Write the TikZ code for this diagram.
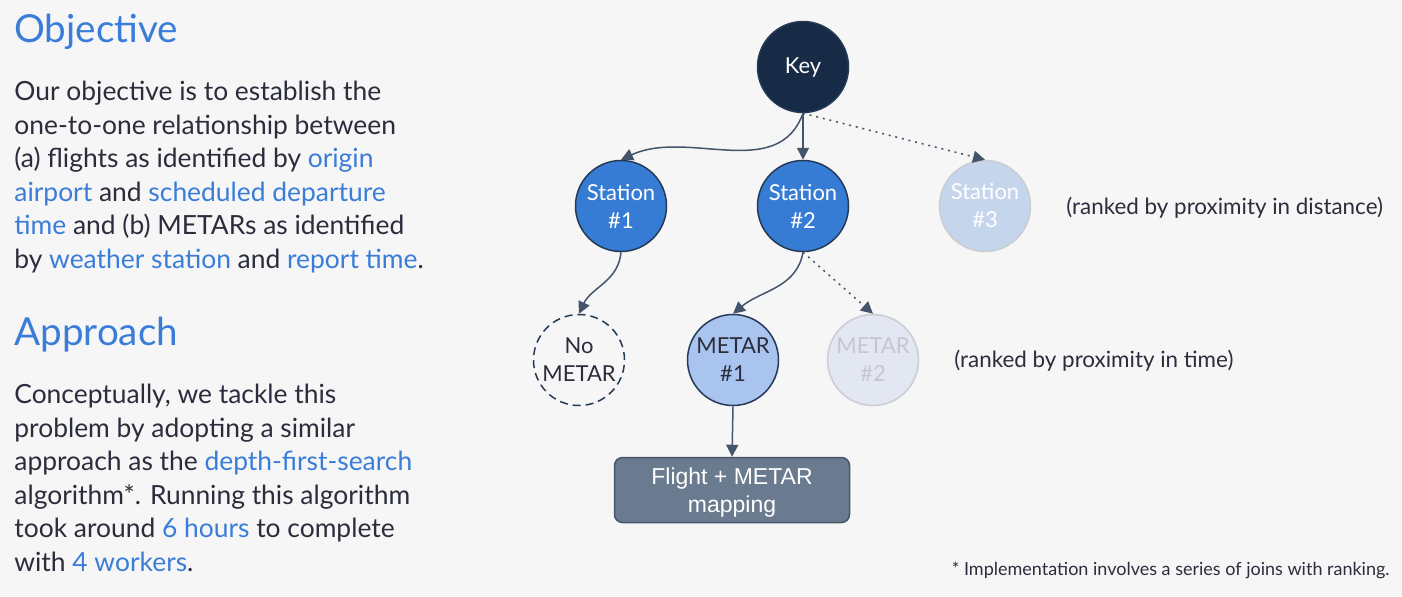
\documentclass[tikz,border=0pt]{standalone}
\usepackage{fontspec}
\setmainfont{Lato}
\newfontfamily\boxfont{Liberation Sans}
\usetikzlibrary{arrows.meta,positioning}
\definecolor{Canvas}{HTML}{F6F6F6}
\definecolor{Ink}{HTML}{2B2D3C}
\definecolor{Accent}{HTML}{3A7DD8}
\definecolor{KeyNavy}{HTML}{172A46}
\definecolor{StationBlue}{HTML}{377CD4}
\definecolor{Rim}{HTML}{253A57}
\definecolor{FadedFill}{HTML}{C5D6EC}
\definecolor{FadedRim}{HTML}{C9CDD2}
\definecolor{MetarFill}{HTML}{A9C4EF}
\definecolor{MetarFaded}{HTML}{E2E7F2}
\definecolor{MetarFadedText}{HTML}{C4C8CE}
\definecolor{BoxFill}{HTML}{6A7B8F}
\definecolor{BoxRim}{HTML}{46566B}
\definecolor{Edge}{HTML}{44546A}
\newcommand{\hl}[1]{\textcolor{Accent}{#1}}

\begin{document}
\begin{tikzpicture}[x=0.5pt,y=-0.5pt,text=Ink,heading/.style={anchor=base west,inner sep=0,text=Accent,font=\fontsize{19.3}{22}\selectfont},para/.style={anchor=north west,inner sep=0,align=left,font=\fontsize{13.2}{16.75}\selectfont},note/.style={anchor=west,inner sep=0,font=\fontsize{11.2}{13}\selectfont},bubble/.style={circle,draw=Rim,line width=0.75pt,minimum size=45.5pt,inner sep=0,align=center,font=\fontsize{11}{14}\selectfont},station/.style={bubble,fill=StationBlue,text=white},faded/.style={draw=FadedRim,fill=FadedFill,text=white},metar/.style={bubble,fill=MetarFill,text=Ink},metarfaded/.style={bubble,draw=FadedRim,fill=MetarFaded,text=MetarFadedText},arrow/.style={-{Triangle[length=6pt,width=6pt]},line width=0.75pt,draw=Edge},dotarrow/.style={arrow,dash pattern=on 1pt off 2.4pt}]
\fill[Canvas] (0,0) rectangle (1402,596);
\useasboundingbox (0,0) rectangle (1402,596);
% left column
\node[heading] (objhead) at (14,42){Objective};
\node[para] (objtext) at (14,81){Our objective is to establish the\\one-to-one relationship between\\(a) flights as identified by \hl{origin}\\\hl{airport} and \hl{scheduled departure}\\\hl{time} and (b) METARs as identified\\by \hl{weather station} and \hl{report time}.};
\node[heading] (apphead) at (14,345){Approach};
\node[para] (apptext) at (14,384){Conceptually, we tackle this\\problem by adopting a similar\\approach as the \hl{depth-first-search}\\algorithm*. Running this algorithm\\took around \hl{6 hours} to complete\\with \hl{4 workers}.};
% tree
\node[bubble,fill=KeyNavy,draw=Rim,text=white] (key) at (803,67){Key};
\node[station] (st1) at (621,206){Station\\\#1};
\node[station] (st2) at (803,206){Station\\\#2};
\node[station,faded] (st3) at (985,206){Station\\\#3};
\node[bubble,fill=none,dash pattern=on 4pt off 2.5pt] (nometar) at (579,360){No\\METAR};
\node[metar] (m1) at (733,360){METAR\\\#1};
\node[metarfaded] (m2) at (873,360){METAR\\\#2};
\node[draw=BoxRim,fill=BoxFill,line width=0.75pt,rounded corners=4pt,minimum width=117.5pt,minimum height=32.5pt,text depth=0pt,align=center,text=white,font=\boxfont\fontsize{11.5}{14}\selectfont] (mapping) at (732,490){Flight + METAR\\mapping};
\draw[arrow] (key.south) to[out=-110,in=25] (st1.north);
\draw[arrow] (key.south) -- (st2.north);
\draw[dotarrow] (key.south) -- (st3.north);
\draw[arrow] (st1.south) to[out=-95,in=65] (nometar.north);
\draw[arrow] (st2.south) to[out=-100,in=40] (m1.north);
\draw[dotarrow] (st2.south) -- (m2.north);
\draw[arrow] (m1.south) -- (mapping.north);
% side notes
\node[note] (distnote) at (1066,208){(ranked by proximity in distance)};
\node[note] (timenote) at (954,361){(ranked by proximity in time)};
\node[note,anchor=east,font=\fontsize{9}{10}\selectfont] (footnote) at (1390,570){* Implementation involves a series of joins with ranking.};
\end{tikzpicture}
\end{document}
